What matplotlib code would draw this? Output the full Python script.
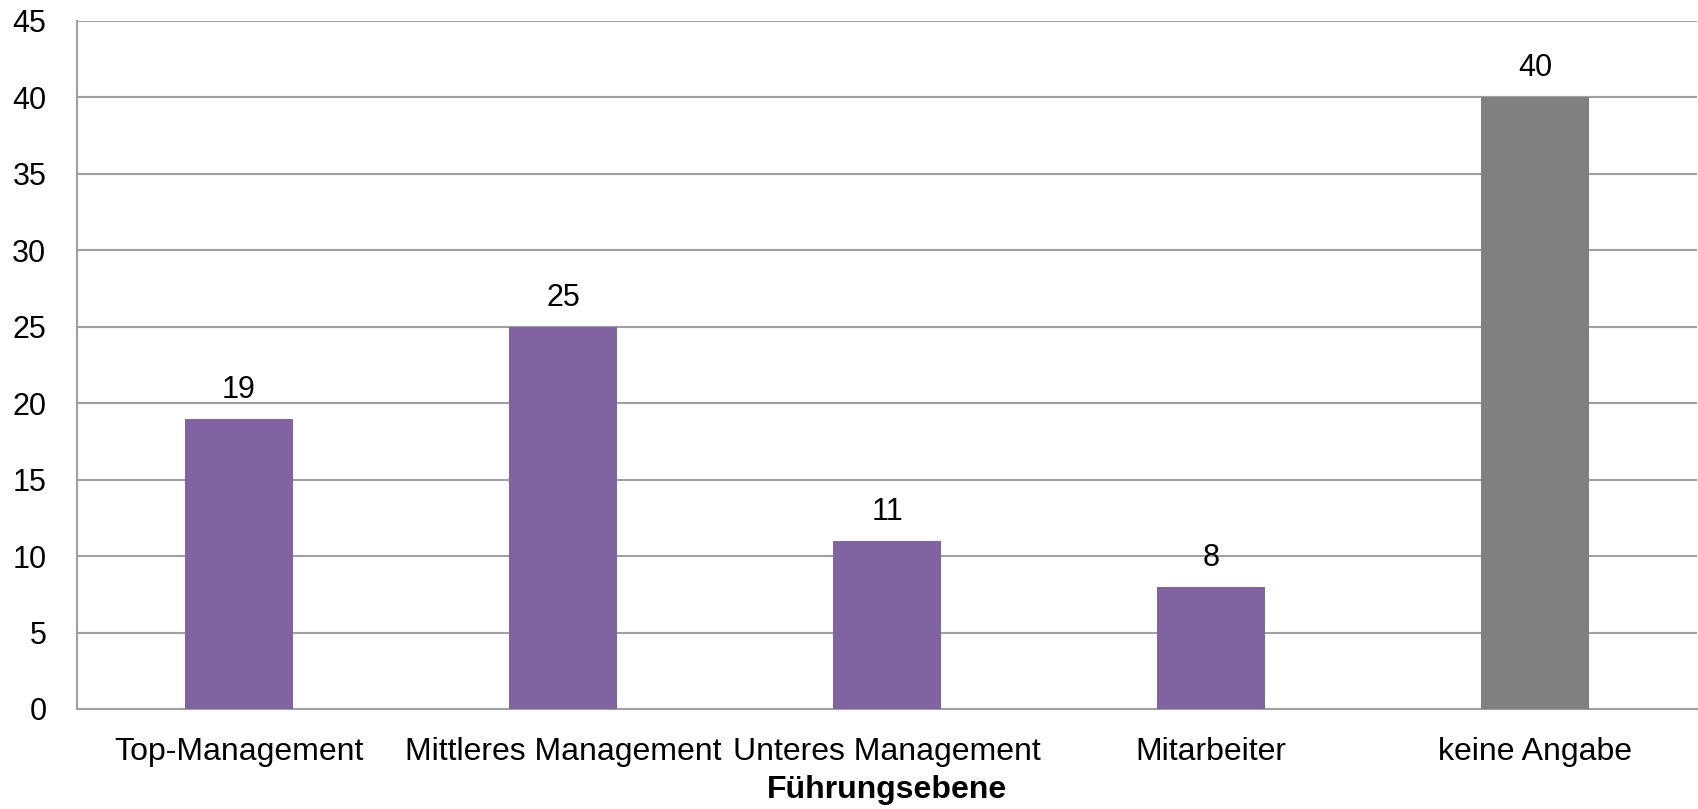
import numpy as np
import matplotlib.pyplot as plt

categories = ['Top-Management', 'Mittleres Management', 'Unteres Management',
              'Mitarbeiter', 'keine Angabe']
values = [19, 25, 11, 8, 40]
bar_colors = ['#8064A2', '#8064A2', '#8064A2', '#8064A2', '#808080']
y_ticks = [0, 5, 10, 15, 20, 25, 30, 35, 40, 45]

plt.rcParams['font.family'] = 'Liberation Sans'

W, H = 1698, 809
fig = plt.figure(figsize=(W / 100, H / 100), dpi=100)
ax = fig.add_axes([77 / W, (H - 709) / H, 1620 / W, 688 / H])

x = np.arange(len(categories))
ax.bar(x, values, width=0.333, color=bar_colors, zorder=3)

# data labels above bars
for xi, v in zip(x, values):
    ax.annotate(str(v), (xi, v), xytext=(0, 14), textcoords='offset pixels',
                ha='center', va='bottom', fontsize=22)

ax.set_xlim(-0.5, len(categories) - 0.5)
ax.set_ylim(0, 45)
ax.set_yticks(y_ticks)
ax.set_yticklabels([str(t) for t in y_ticks], fontsize=22)
ax.set_xticks(x)
ax.set_xticklabels(categories, fontsize=23)
ax.tick_params(axis='both', length=0)
ax.tick_params(axis='y', pad=22)
ax.tick_params(axis='x', pad=20)

ax.yaxis.grid(True, color='#A0A0A0', linewidth=1.5, zorder=0)
for s in ['top', 'right']:
    ax.spines[s].set_visible(False)
for s in ['left', 'bottom']:
    ax.spines[s].set_color('#A0A0A0')
    ax.spines[s].set_linewidth(1.5)

ax.set_xlabel('Führungsebene', fontsize=23, fontweight='bold', labelpad=6)

fig.savefig('out.png', dpi=100)
